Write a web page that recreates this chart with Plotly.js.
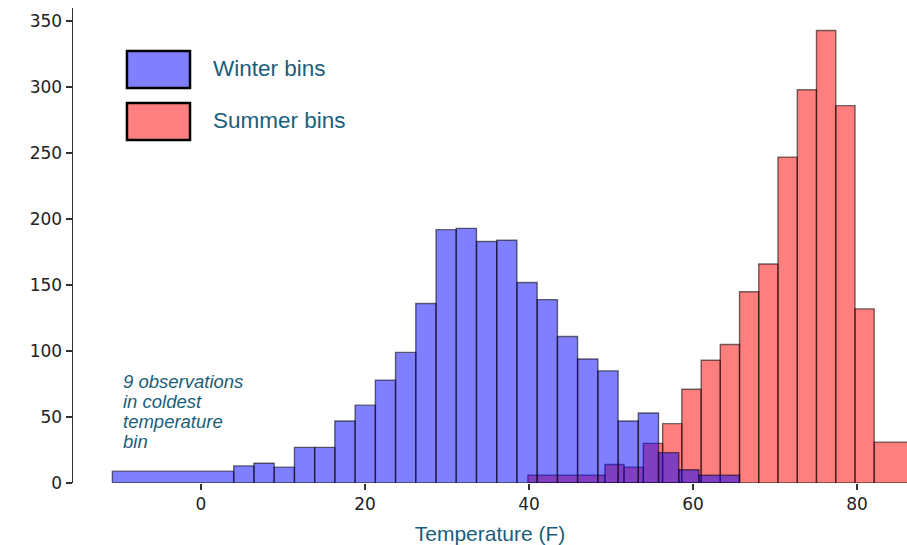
<!DOCTYPE html>
<html>
<head>
<meta charset="utf-8">
<script src="https://cdn.plot.ly/plotly-3.0.1.min.js"></script>
<style>html,body{margin:0;padding:0;background:#fff;}#chart{width:907px;height:545px;}</style>
</head>
<body>
<div id="chart"></div>
<script>
// Winter histogram: bin edges (F) and counts
const winterEdges = [-10.8, 4.0, 6.47, 8.93, 11.4, 13.87, 16.33, 18.8, 21.27, 23.73, 26.2, 28.67, 31.13, 33.6, 36.07, 38.53, 41.0, 43.47, 45.93, 48.4, 50.87, 53.33, 55.8, 58.27, 60.73, 65.67];
const winterCounts = [9, 13, 15, 12, 27, 27, 47, 59, 78, 99, 136, 192, 193, 183, 184, 152, 139, 111, 94, 85, 47, 53, 23, 10, 6];
// Summer histogram: bin edges (F) and counts
const summerEdges = [39.87, 49.26, 51.6, 53.95, 56.3, 58.64, 61.0, 63.33, 65.68, 68.02, 70.37, 72.72, 75.06, 77.41, 79.76, 82.1, 90.0];
const summerCounts = [6, 14, 12, 30, 45, 71, 93, 105, 145, 166, 247, 298, 343, 286, 132, 31];
const xTicks = [0, 20, 40, 60, 80];
const yTicks = [0, 50, 100, 150, 200, 250, 300, 350];
const seriesNames = ["Winter bins", "Summer bins"];
const noteLines = ["9 observations", "in coldest", "temperature", "bin"];
const xTitle = "Temperature (F)";

function centers(e){ const c=[]; for(let i=0;i<e.length-1;i++) c.push((e[i]+e[i+1])/2); return c; }
function widths(e){ const w=[]; for(let i=0;i<e.length-1;i++) w.push(e[i+1]-e[i]); return w; }

const teal = "#1b5e7b";
const summer = {
  type: "bar", name: seriesNames[1], x: centers(summerEdges), y: summerCounts, width: widths(summerEdges),
  marker: {color: "rgba(255,0,0,0.5)", line: {color: "rgba(0,0,0,0.55)", width: 1.4}},
  showlegend: false, hoverinfo: "x+y"
};
const winter = {
  type: "bar", name: seriesNames[0], x: centers(winterEdges), y: winterCounts, width: widths(winterEdges),
  marker: {color: "rgba(0,0,255,0.5)", line: {color: "rgba(0,0,0,0.55)", width: 1.4}},
  showlegend: false, hoverinfo: "x+y"
};

const noteAnns = noteLines.map((t, i) => ({
  xref: "paper", yref: "paper", x: (121 - 73) / 834, y: (483 - (381 + 20 * i)) / 475,
  xanchor: "left", yanchor: "middle", align: "left", showarrow: false,
  text: "<i>" + t + "</i>", font: {family: "Liberation Sans, Arial", size: 18.5, color: teal}
}));

const layout = {
  width: 907, height: 545,
  margin: {l: 73, r: 0, t: 8, b: 62},
  paper_bgcolor: "#fff", plot_bgcolor: "#fff",
  barmode: "overlay", bargap: 0,
  font: {family: "DejaVu Sans", size: 17, color: "#222"},
  xaxis: {
    range: [-15.6, 86.1], tickvals: xTicks, ticktext: xTicks.map(String),
    showgrid: false, zeroline: false, showline: false,
    ticks: "outside", ticklen: 6, tickwidth: 1.5, tickcolor: "#333",
    tickfont: {family: "DejaVu Sans", size: 17, color: "#222"},
    title: {text: xTitle, font: {family: "Liberation Sans, Arial", size: 21, color: teal}, standoff: 13}
  },
  yaxis: {
    range: [0, 360], tickvals: yTicks, ticktext: yTicks.map(String),
    showgrid: false, zeroline: false, showline: true, linecolor: "#333", linewidth: 1.5,
    ticks: "outside", ticklen: 6, tickwidth: 1.5, tickcolor: "#333",
    tickfont: {family: "DejaVu Sans", size: 17, color: "#222"}
  },
  shapes: [
    {type: "rect", xref: "paper", yref: "paper", x0: 0.0647, x1: 0.1403, y0: 0.8316, y1: 0.9095,
     fillcolor: "rgb(128,128,255)", line: {color: "#000", width: 2.5}},
    {type: "rect", xref: "paper", yref: "paper", x0: 0.0647, x1: 0.1403, y0: 0.7221, y1: 0.8,
     fillcolor: "rgb(255,128,128)", line: {color: "#000", width: 2.5}}
  ],
  annotations: [
    {xref: "paper", yref: "paper", x: (211 - 73) / 834, y: 0.8716, xanchor: "left", yanchor: "middle", showarrow: false,
     text: seriesNames[0], font: {family: "Liberation Sans, Arial", size: 22.5, color: teal}},
    {xref: "paper", yref: "paper", x: (211 - 73) / 834, y: 0.7642, xanchor: "left", yanchor: "middle", showarrow: false,
     text: seriesNames[1], font: {family: "Liberation Sans, Arial", size: 22.5, color: teal}}
  ].concat(noteAnns)
};

Plotly.newPlot("chart", [summer, winter], layout, {displayModeBar: false, staticPlot: true});
</script>
</body>
</html>
